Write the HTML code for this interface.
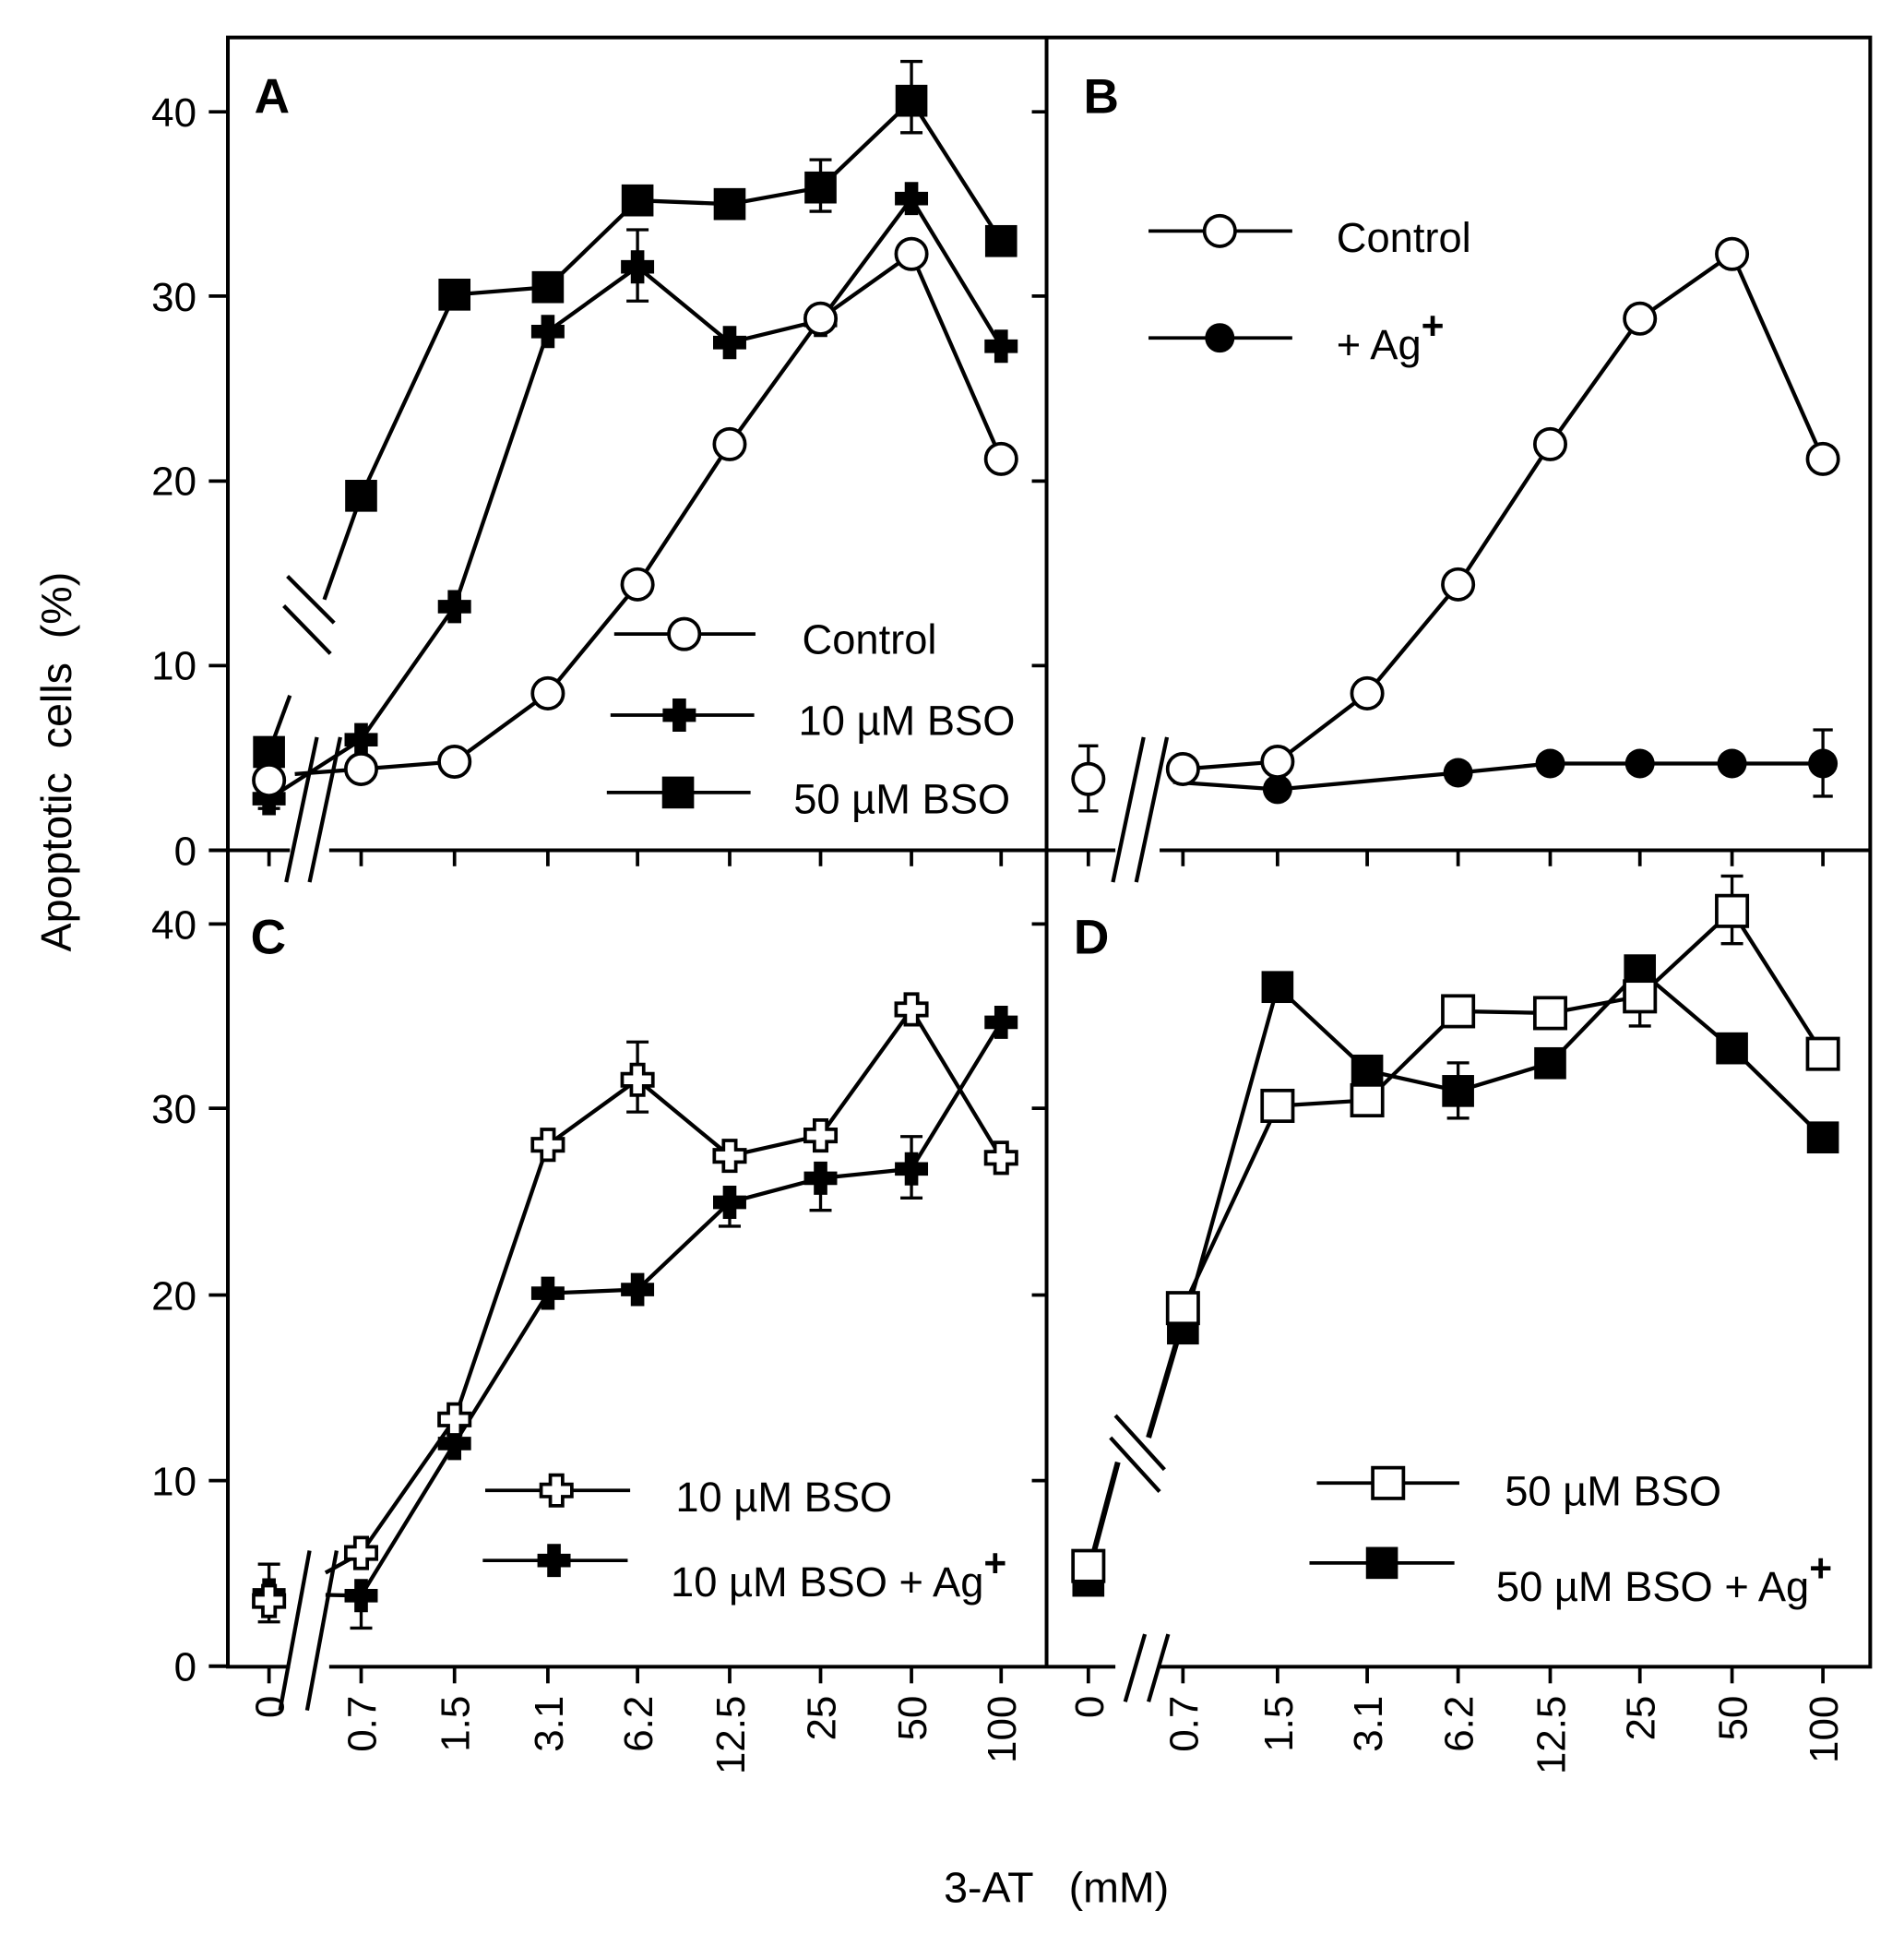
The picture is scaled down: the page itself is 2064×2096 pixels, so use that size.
<!DOCTYPE html>
<html><head><meta charset="utf-8"><style>
html,body{margin:0;padding:0;background:#fff;}
svg{display:block}
text{font-family:"Liberation Sans",Arial,sans-serif;fill:#000}
</style></head><body>
<svg width="2064" height="2096" viewBox="0 0 1550 1574" preserveAspectRatio="none" xmlns="http://www.w3.org/2000/svg">
<defs>
<circle id="oc" r="12.5" fill="#fff" stroke="#000" stroke-width="2.8"/>
<circle id="fc" r="12" fill="#000"/>
<rect id="os" x="-12.5" y="-12.5" width="25" height="25" fill="#fff" stroke="#000" stroke-width="2.8"/>
<rect id="fs" x="-13" y="-13" width="26" height="26" fill="#000"/>
<path id="fx" d="M-5.5,-13.5h11v8h8v11h-8v8h-11v-8h-8v-11h8z" fill="#000"/>
<path id="ox" d="M-5,-12.5h10v7.5h7.5v10h-7.5v7.5h-10v-7.5h-7.5v-10h7.5z" fill="#fff" stroke="#000" stroke-width="2.8"/>
</defs>
<rect width="1550" height="1574" fill="#fff"/>
<g stroke="#000" stroke-width="3" fill="none">
<rect x="185.5" y="30.5" width="1337" height="1326"/>
<line x1="852" y1="30" x2="852" y2="1356"/>
<line x1="170" y1="692" x2="1522" y2="692"/>
<line x1="170" y1="1356" x2="185" y2="1356"/>
</g>
<rect x="236" y="686" width="32" height="12" fill="#fff"/>
<rect x="236" y="1350" width="32" height="12" fill="#fff"/>
<rect x="908" y="686" width="36" height="12" fill="#fff"/>
<rect x="908" y="1350" width="36" height="12" fill="#fff"/>
<g stroke="#000" stroke-width="2.8">
<line x1="170" y1="91" x2="185" y2="91"/><line x1="170" y1="241" x2="185" y2="241"/><line x1="170" y1="391.5" x2="185" y2="391.5"/><line x1="170" y1="541.7" x2="185" y2="541.7"/>
<line x1="170" y1="752" x2="185" y2="752"/><line x1="170" y1="902" x2="185" y2="902"/><line x1="170" y1="1054" x2="185" y2="1054"/><line x1="170" y1="1205" x2="185" y2="1205"/>
<line x1="840" y1="91" x2="852" y2="91"/><line x1="840" y1="241" x2="852" y2="241"/><line x1="840" y1="391.5" x2="852" y2="391.5"/><line x1="840" y1="541.7" x2="852" y2="541.7"/>
<line x1="840" y1="752" x2="852" y2="752"/><line x1="840" y1="902" x2="852" y2="902"/><line x1="840" y1="1054" x2="852" y2="1054"/><line x1="840" y1="1205" x2="852" y2="1205"/>
</g>
<g stroke="#000" stroke-width="2.8">
<line x1="219" y1="692" x2="219" y2="705"/><line x1="294" y1="692" x2="294" y2="705"/><line x1="370" y1="692" x2="370" y2="705"/><line x1="446" y1="692" x2="446" y2="705"/><line x1="519" y1="692" x2="519" y2="705"/><line x1="594" y1="692" x2="594" y2="705"/><line x1="668" y1="692" x2="668" y2="705"/><line x1="742" y1="692" x2="742" y2="705"/><line x1="815" y1="692" x2="815" y2="705"/>
<line x1="886" y1="692" x2="886" y2="705"/><line x1="963" y1="692" x2="963" y2="705"/><line x1="1040" y1="692" x2="1040" y2="705"/><line x1="1113" y1="692" x2="1113" y2="705"/><line x1="1187" y1="692" x2="1187" y2="705"/><line x1="1262" y1="692" x2="1262" y2="705"/><line x1="1335" y1="692" x2="1335" y2="705"/><line x1="1410" y1="692" x2="1410" y2="705"/><line x1="1484" y1="692" x2="1484" y2="705"/>
<line x1="219" y1="1356" x2="219" y2="1370"/><line x1="294" y1="1356" x2="294" y2="1370"/><line x1="370" y1="1356" x2="370" y2="1370"/><line x1="446" y1="1356" x2="446" y2="1370"/><line x1="519" y1="1356" x2="519" y2="1370"/><line x1="594" y1="1356" x2="594" y2="1370"/><line x1="668" y1="1356" x2="668" y2="1370"/><line x1="742" y1="1356" x2="742" y2="1370"/><line x1="815" y1="1356" x2="815" y2="1370"/>
<line x1="886" y1="1356" x2="886" y2="1370"/><line x1="963" y1="1356" x2="963" y2="1370"/><line x1="1040" y1="1356" x2="1040" y2="1370"/><line x1="1113" y1="1356" x2="1113" y2="1370"/><line x1="1187" y1="1356" x2="1187" y2="1370"/><line x1="1262" y1="1356" x2="1262" y2="1370"/><line x1="1335" y1="1356" x2="1335" y2="1370"/><line x1="1410" y1="1356" x2="1410" y2="1370"/><line x1="1484" y1="1356" x2="1484" y2="1370"/>
</g>
<g stroke="#000" stroke-width="3.2">
<line x1="233" y1="718" x2="258" y2="600"/><line x1="252" y1="718" x2="277" y2="600"/>
<line x1="906" y1="718" x2="931" y2="600"/><line x1="925" y1="718" x2="950" y2="600"/>
<line x1="228" y1="1392" x2="252" y2="1262"/><line x1="250" y1="1392" x2="274" y2="1262"/>
<line x1="916" y1="1385" x2="932" y2="1330"/><line x1="935" y1="1385" x2="951" y2="1330"/>
<line x1="234" y1="469" x2="272" y2="507"/><line x1="231" y1="493" x2="269" y2="532"/>
<line x1="908" y1="1152" x2="948" y2="1196"/><line x1="904" y1="1170" x2="944" y2="1214"/>
</g>
<g font-size="33" text-anchor="end">
<text x="160" y="103">40</text><text x="160" y="253">30</text><text x="160" y="403">20</text><text x="160" y="553">10</text><text x="160" y="704">0</text>
<text x="160" y="764">40</text><text x="160" y="914">30</text><text x="160" y="1066">20</text><text x="160" y="1217">10</text><text x="160" y="1368">0</text>
</g>
<g font-size="33" text-anchor="end">
<text transform="translate(231,1380) rotate(-90)">0</text><text transform="translate(306,1380) rotate(-90)">0.7</text><text transform="translate(382,1380) rotate(-90)">1.5</text><text transform="translate(458,1380) rotate(-90)">3.1</text><text transform="translate(531,1380) rotate(-90)">6.2</text><text transform="translate(606,1380) rotate(-90)">12.5</text><text transform="translate(680,1380) rotate(-90)">25</text><text transform="translate(754,1380) rotate(-90)">50</text><text transform="translate(827,1380) rotate(-90)">100</text>
<text transform="translate(898,1380) rotate(-90)">0</text><text transform="translate(975,1380) rotate(-90)">0.7</text><text transform="translate(1052,1380) rotate(-90)">1.5</text><text transform="translate(1125,1380) rotate(-90)">3.1</text><text transform="translate(1199,1380) rotate(-90)">6.2</text><text transform="translate(1274,1380) rotate(-90)">12.5</text><text transform="translate(1347,1380) rotate(-90)">25</text><text transform="translate(1422,1380) rotate(-90)">50</text><text transform="translate(1496,1380) rotate(-90)">100</text>
</g>
<text x="860" y="1548" font-size="35" text-anchor="middle" xml:space="preserve">3-AT   (mM)</text>
<text transform="translate(58,620) rotate(-90)" font-size="35" text-anchor="middle" xml:space="preserve">Apoptotic  cells  (%)</text>
<g font-size="40" font-weight="bold">
<text x="207" y="92">A</text><text x="882" y="92">B</text><text x="204" y="776">C</text><text x="874" y="776">D</text>
</g>
<g stroke="#000" stroke-width="2.5">
<line x1="742" y1="50" x2="742" y2="108"/><line x1="733" y1="50" x2="751" y2="50"/><line x1="733" y1="108" x2="751" y2="108"/>
<line x1="519" y1="187" x2="519" y2="245"/><line x1="510" y1="187" x2="528" y2="187"/><line x1="510" y1="245" x2="528" y2="245"/>
<line x1="668" y1="130" x2="668" y2="172"/><line x1="659" y1="130" x2="677" y2="130"/><line x1="659" y1="172" x2="677" y2="172"/>
<line x1="219" y1="636" x2="219" y2="658"/><line x1="210" y1="658" x2="228" y2="658"/>
<line x1="886" y1="607" x2="886" y2="660"/><line x1="878" y1="607" x2="894" y2="607"/><line x1="878" y1="660" x2="894" y2="660"/>
<line x1="1484" y1="594" x2="1484" y2="648"/><line x1="1476" y1="594" x2="1492" y2="594"/><line x1="1476" y1="648" x2="1492" y2="648"/>
<line x1="519" y1="848" x2="519" y2="905"/><line x1="510" y1="848" x2="528" y2="848"/><line x1="510" y1="905" x2="528" y2="905"/>
<line x1="594" y1="965" x2="594" y2="998"/><line x1="585" y1="998" x2="603" y2="998"/>
<line x1="668" y1="950" x2="668" y2="985"/><line x1="659" y1="985" x2="677" y2="985"/>
<line x1="742" y1="925" x2="742" y2="975"/><line x1="733" y1="925" x2="751" y2="925"/><line x1="733" y1="975" x2="751" y2="975"/>
<line x1="219" y1="1273" x2="219" y2="1320"/><line x1="210" y1="1273" x2="228" y2="1273"/><line x1="210" y1="1320" x2="228" y2="1320"/>
<line x1="294" y1="1298" x2="294" y2="1325"/><line x1="285" y1="1325" x2="303" y2="1325"/>
<line x1="1410" y1="713" x2="1410" y2="768"/><line x1="1401" y1="713" x2="1419" y2="713"/><line x1="1401" y1="768" x2="1419" y2="768"/>
<line x1="1187" y1="865" x2="1187" y2="910"/><line x1="1178" y1="865" x2="1196" y2="865"/><line x1="1178" y1="910" x2="1196" y2="910"/>
<line x1="1335" y1="790" x2="1335" y2="835"/><line x1="1326" y1="835" x2="1344" y2="835"/>
</g>
<g stroke="#000" stroke-width="3.2" fill="none">
<polyline points="219,612 236,566"/><polyline points="264,488 294,403.5 370,239.8 446,233.7 519,163.1 594,166.1 668,152.6 742,82 815,196.2"/>
<polyline points="219,650 294,602 370,493.7 446,269.8 519,217.2 594,278.8 668,260.8 742,161.6 815,281.8"/>
<polyline points="240,630 294,625.9 370,619.9 446,564.3 519,475.6 594,361.5 668,259.3 742,206.7 815,373.5"/>
<polyline points="955,628 963,625.9 1040,619.9 1113,564.3 1187,475.6 1262,361.5 1335,259.3 1410,206.7 1484,373.5"/>
<polyline points="955,636.4 1040,642.4 1187,628.9 1262,621.4 1335,621.4 1410,621.4 1484,621.4"/>
<polyline points="265,1280 294,1263.9 370,1155.2 446,931.7 519,878.8 594,940.7 668,924.1 742,821.5 815,942.3"/>
<polyline points="265,1298 294,1298.6 370,1174.8 446,1052.5 519,1049.5 594,978.5 668,958.9 742,951.3 815,832"/>
<polyline stroke-width="4.5" points="886,1280 910,1190"/><polyline stroke-width="4.5" points="935,1170 963,1075"/>
<polyline points="963,1064.6 1040,900 1113,895.5 1187,823 1262,824.5 1335,810.9 1410,741.4 1484,857.7"/>
<polyline points="963,1081.2 1040,803.3 1113,871.3 1187,887.9 1262,865.3 1335,789.7 1410,853.2 1484,925.7"/>
</g>
<use href="#fx" x="219" y="650"/>
<use href="#fs" x="219" y="612"/>
<use href="#oc" x="219" y="635"/>
<use href="#fs" x="294" y="403.5"/><use href="#fs" x="370" y="239.8"/><use href="#fs" x="446" y="233.7"/><use href="#fs" x="519" y="163.1"/><use href="#fs" x="594" y="166.1"/><use href="#fs" x="668" y="152.6"/><use href="#fs" x="742" y="82"/><use href="#fs" x="815" y="196.2"/>
<use href="#fx" x="294" y="602"/><use href="#fx" x="370" y="493.7"/><use href="#fx" x="446" y="269.8"/><use href="#fx" x="519" y="217.2"/><use href="#fx" x="594" y="278.8"/><use href="#fx" x="668" y="260.8"/><use href="#fx" x="742" y="161.6"/><use href="#fx" x="815" y="281.8"/>
<use href="#oc" x="294" y="625.9"/><use href="#oc" x="370" y="619.9"/><use href="#oc" x="446" y="564.3"/><use href="#oc" x="519" y="475.6"/><use href="#oc" x="594" y="361.5"/><use href="#oc" x="668" y="259.3"/><use href="#oc" x="742" y="206.7"/><use href="#oc" x="815" y="373.5"/>
<use href="#oc" x="886" y="634"/>
<use href="#fc" x="1040" y="642.4"/><use href="#fc" x="1187" y="628.9"/><use href="#fc" x="1262" y="621.4"/><use href="#fc" x="1335" y="621.4"/><use href="#fc" x="1410" y="621.4"/><use href="#fc" x="1484" y="621.4"/>
<use href="#oc" x="963" y="625.9"/><use href="#oc" x="1040" y="619.9"/><use href="#oc" x="1113" y="564.3"/><use href="#oc" x="1187" y="475.6"/><use href="#oc" x="1262" y="361.5"/><use href="#oc" x="1335" y="259.3"/><use href="#oc" x="1410" y="206.7"/><use href="#oc" x="1484" y="373.5"/>
<use href="#fx" x="219" y="1298"/><use href="#fx" x="294" y="1298.6"/><use href="#fx" x="370" y="1174.8"/><use href="#fx" x="446" y="1052.5"/><use href="#fx" x="519" y="1049.5"/><use href="#fx" x="594" y="978.5"/><use href="#fx" x="668" y="958.9"/><use href="#fx" x="742" y="951.3"/><use href="#fx" x="815" y="832"/>
<use href="#ox" x="219" y="1303"/><use href="#ox" x="294" y="1263.9"/><use href="#ox" x="370" y="1155.2"/><use href="#ox" x="446" y="931.7"/><use href="#ox" x="519" y="878.8"/><use href="#ox" x="594" y="940.7"/><use href="#ox" x="668" y="924.1"/><use href="#ox" x="742" y="821.5"/><use href="#ox" x="815" y="942.3"/>
<use href="#fs" x="886" y="1286.5"/><use href="#fs" x="963" y="1081.2"/><use href="#fs" x="1040" y="803.3"/><use href="#fs" x="1113" y="871.3"/><use href="#fs" x="1187" y="887.9"/><use href="#fs" x="1262" y="865.3"/><use href="#fs" x="1335" y="789.7"/><use href="#fs" x="1410" y="853.2"/><use href="#fs" x="1484" y="925.7"/>
<use href="#os" x="886" y="1274.5"/><use href="#os" x="963" y="1064.6"/><use href="#os" x="1040" y="900"/><use href="#os" x="1113" y="895.5"/><use href="#os" x="1187" y="823"/><use href="#os" x="1262" y="824.5"/><use href="#os" x="1335" y="810.9"/><use href="#os" x="1410" y="741.4"/><use href="#os" x="1484" y="857.7"/>
<g stroke="#000" stroke-width="2.8">
<line x1="500" y1="516" x2="615" y2="516"/><line x1="497" y1="582" x2="614" y2="582"/><line x1="494" y1="645" x2="611" y2="645"/>
<line x1="935" y1="188" x2="1052" y2="188"/><line x1="935" y1="275" x2="1052" y2="275"/>
<line x1="395" y1="1213" x2="513" y2="1213"/><line x1="393" y1="1270" x2="511" y2="1270"/>
<line x1="1072" y1="1207" x2="1188" y2="1207"/><line x1="1066" y1="1272" x2="1184" y2="1272"/>
</g>
<use href="#oc" x="557" y="516"/><use href="#fx" x="553" y="582"/><use href="#fs" x="552" y="645"/>
<use href="#oc" x="993" y="188"/><use href="#fc" x="993" y="275"/>
<use href="#ox" x="453" y="1213"/><use href="#fx" x="451" y="1270"/>
<use href="#os" x="1130" y="1207"/><use href="#fs" x="1125" y="1272"/>
<g font-size="34">
<text x="653" y="532">Control</text><text x="650" y="598">10 µM BSO</text><text x="646" y="662">50 µM BSO</text>
<text x="1088" y="205">Control</text><text x="1088" y="292">+ Ag<tspan font-size="32" font-weight="bold" dy="-16">+</tspan></text>
<text x="550" y="1230">10 µM BSO</text><text x="546" y="1299">10 µM BSO + Ag<tspan font-size="32" font-weight="bold" dy="-16">+</tspan></text>
<text x="1225" y="1225">50 µM BSO</text><text x="1218" y="1303">50 µM BSO + Ag<tspan font-size="32" font-weight="bold" dy="-16">+</tspan></text>
</g>
</svg>
</body></html>
